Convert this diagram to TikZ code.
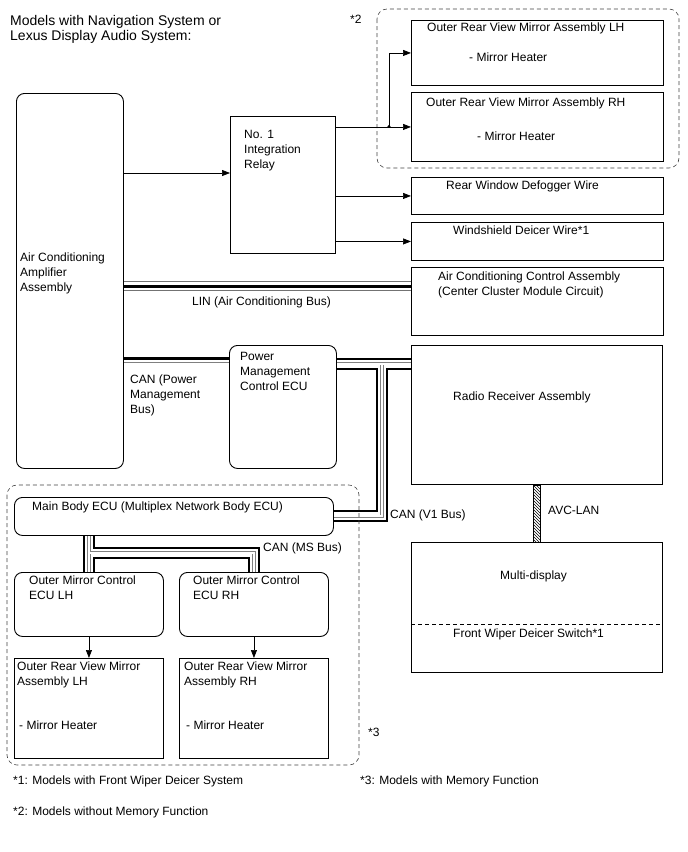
\documentclass[tikz,border=0pt]{standalone}
\usepackage{fontspec}
\setmainfont{Liberation Sans}
\usetikzlibrary{arrows.meta,positioning,patterns,calc,backgrounds}

\tikzset{
  box/.style={draw, line width=0.9pt, anchor=north west, inner sep=0pt},
  ecu/.style={box, rounded corners=8pt},
  grp/.style={draw=black!75, line width=0.6pt, dash pattern=on 4pt off 3pt, rounded corners=10pt},
  txt/.style={anchor=north west, inner sep=0pt, align=left, font=\fontsize{12}{15}\selectfont},
  arr/.style={-{Triangle[length=8pt,width=6pt]}, line width=0.7pt},
  linbus/.style={draw=black, line width=3pt,
    preaction={draw=black!55, line width=10pt},
    preaction={draw=white, line width=8.2pt}},
  canbus/.style={draw=white, line width=2pt,
    preaction={draw=black, line width=12pt},
    preaction={draw=white, line width=8pt},
    preaction={draw=black!50, line width=3.6pt}},
  canpair/.style={draw=white, line width=2pt,
    preaction={draw=black!50, line width=3.6pt}},
  canwire/.style={draw=black, line width=2.2pt},
  avcbar/.style={draw, line width=0.5pt, pattern=north west lines},
}

\begin{document}
\begin{tikzpicture}[x=1pt, y=-1pt]
  \useasboundingbox (0,0) rectangle (688,852);

  \node[txt, font=\fontsize{14}{15}\selectfont] (head) at (10,15) {Models with Navigation System or\\Lexus Display Audio System:};

  % mirrors driven by the relay (*2)
  \draw[grp] (377,9) rectangle (679,168);
  \node[txt] (star2) at (350,15) {*2};
  \node[box, minimum width=252pt, minimum height=65pt] (mirlh) at (411,20) {};
  \node[txt, below right=3pt and 16pt of mirlh.north west] {Outer Rear View Mirror Assembly LH};
  \node[txt, below right=33pt and 58pt of mirlh.north west] {- Mirror Heater};
  \node[box, minimum width=252pt, minimum height=69pt] (mirrh) at (411,92) {};
  \node[txt, below right=6pt and 15pt of mirrh.north west] {Outer Rear View Mirror Assembly RH};
  \node[txt, below right=40pt and 66pt of mirrh.north west] {- Mirror Heater};

  % left column
  \node[ecu, minimum width=107pt, minimum height=375pt] (amp) at (16,93) {};
  \node[txt, below right=160pt and 4pt of amp.north west] {Air Conditioning\\Amplifier\\Assembly};
  \node[box, minimum width=105pt, minimum height=137pt] (relay) at (230,116) {};
  \node[txt, below right=14pt and 14pt of relay.north west] {No. 1\\Integration\\Relay};

  % right column
  \node[box, minimum width=252pt, minimum height=37pt] (defog) at (411,177) {};
  \node[txt, below right=4pt and 35pt of defog.north west] {Rear Window Defogger Wire};
  \node[box, minimum width=252pt, minimum height=38pt] (deicer) at (411,222) {};
  \node[txt, below right=4pt and 42pt of deicer.north west] {Windshield Deicer Wire*1};
  \node[box, minimum width=252pt, minimum height=68pt] (accp) at (411,267) {};
  \node[txt, below right=5pt and 27pt of accp.north west] {Air Conditioning Control Assembly\\(Center Cluster Module Circuit)};
  \node[ecu, minimum width=107pt, minimum height=123pt] (pmecu) at (229,345) {};
  \node[txt, below right=7pt and 11pt of pmecu.north west] {Power\\Management\\Control ECU};
  \node[box, minimum width=251pt, minimum height=139pt] (radio) at (411,345) {};
  \node[txt, below right=47pt and 42pt of radio.north west] {Radio Receiver Assembly};
  \node[box, minimum width=251pt, minimum height=130pt] (multi) at (411,542) {};
  \node[txt, below right=29pt and 89pt of multi.north west] {Multi-display};
  \node[txt, below right=87pt and 42pt of multi.north west] {Front Wiper Deicer Switch*1};

  % memory function group (*3)
  \draw[grp] (7,485) rectangle (359,765);
  \node[txt] (star3) at (368,728) {*3};
  \node[ecu, minimum width=319pt, minimum height=38pt] (mainecu) at (14,497) {};
  \node[txt, below right=5pt and 18pt of mainecu.north west] {Main Body ECU (Multiplex Network Body ECU)};
  \node[ecu, minimum width=149pt, minimum height=64pt] (omclh) at (14,572) {};
  \node[txt, below right=4pt and 15pt of omclh.north west] {Outer Mirror Control\\ECU LH};
  \node[ecu, minimum width=149pt, minimum height=64pt] (omcrh) at (179,572) {};
  \node[txt, below right=4pt and 14pt of omcrh.north west] {Outer Mirror Control\\ECU RH};
  \node[box, minimum width=149pt, minimum height=100pt] (ormlh) at (14,658) {};
  \node[txt, below right=4pt and 3pt of ormlh.north west] {Outer Rear View Mirror\\Assembly LH};
  \node[txt, below right=63pt and 5pt of ormlh.north west] {- Mirror Heater};
  \node[box, minimum width=149pt, minimum height=100pt] (ormrh) at (179,658) {};
  \node[txt, below right=4pt and 5pt of ormrh.north west] {Outer Rear View Mirror\\Assembly RH};
  \node[txt, below right=63pt and 7pt of ormrh.north west] {- Mirror Heater};

  % bus labels
  \node[txt] (linlbl) at (192,297) {LIN (Air Conditioning Bus)};
  \node[txt] (pmlbl) at (130,375) {CAN (Power\\Management\\Bus)};
  \node[txt] (v1lbl) at (390,510) {CAN (V1 Bus)};
  \node[txt] (mslbl) at (263,543) {CAN (MS Bus)};
  \node[txt] (avclbl) at (548,506) {AVC-LAN};

  % footnotes
  \node[txt] (note1) at (13,776) {*1: Models with Front Wiper Deicer System};
  \node[txt] (note3) at (360,776) {*3: Models with Memory Function};
  \node[txt] (note2) at (13,807) {*2: Models without Memory Function};

  \coordinate (relayin) at (0,173);
  \coordinate (jmir) at (389,126.5);
  \coordinate (liny) at (0,286);
  \coordinate (pmwire) at (0,358.5);
  \coordinate (pmpair) at (0,363.5);
  \coordinate (v1j) at (382,363.5);
  \coordinate (msj) at (0,552.5);
  \coordinate (avcx) at (536.5,0);
  \coordinate (divy) at (0,624);

  % hard wired outputs
  \draw[arr] (amp.east |- relayin) -- (relay.west |- relayin);
  \draw[arr] (relay.east |- mirrh.west) -- (mirrh.west);
  \draw[arr] (jmir) |- (mirlh.west);
  \fill (jmir) circle (1.6pt);
  \draw[arr] (relay.east |- defog.west) -- (defog.west);
  \draw[arr] (relay.east |- deicer.west) -- (deicer.west);
  \draw[arr] (omclh.south) -- (ormlh.north);
  \draw[arr] (omcrh.south) -- (ormrh.north);

  % buses
  \begin{scope}[on background layer]
    \draw[linbus] (amp.east |- liny) -- (accp.west |- liny);
    \draw[canpair] (amp.east |- pmpair) -- (pmecu.west |- pmpair);
    \draw[canwire] (amp.east |- pmwire) -- (pmecu.west |- pmwire);
    \draw[canbus] (pmecu.east |- v1j) -- (radio.west |- v1j) (v1j) |- (mainecu.east);
    \draw[canbus] (omclh.north |- mainecu.south) -- (omclh.north) (omclh.north |- msj) -| (omcrh.north);
  \end{scope}
  \draw[avcbar] ($(radio.south -| avcx)+(-3.5,0)$) rectangle ($(multi.north -| avcx)+(3.5,0)$);

  \draw[line width=0.6pt, dash pattern=on 4pt off 3pt] (multi.west |- divy) -- (multi.east |- divy);
\end{tikzpicture}
\end{document}
